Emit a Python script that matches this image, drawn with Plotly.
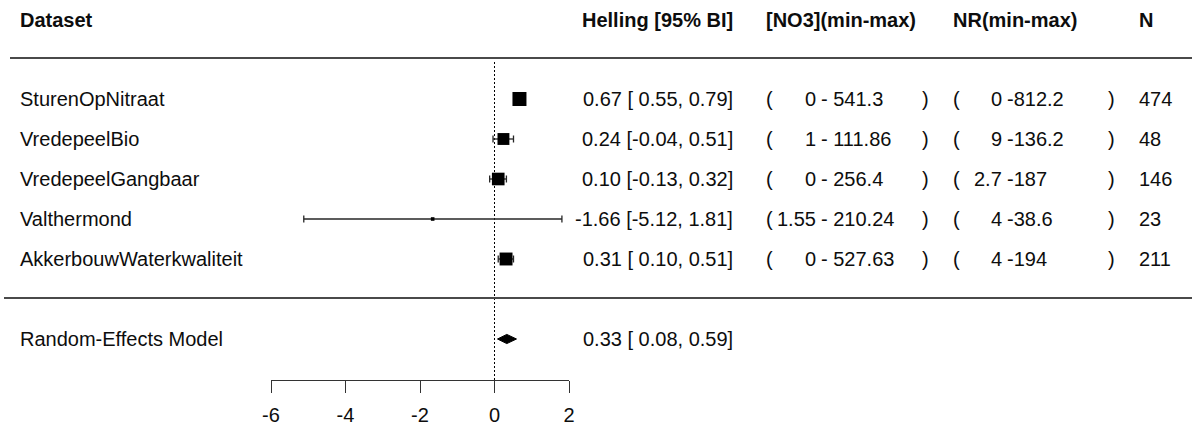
import plotly.graph_objects as go

# ---- study-level data -------------------------------------------------------
datasets = ["SturenOpNitraat", "VredepeelBio", "VredepeelGangbaar",
            "Valthermond", "AkkerbouwWaterkwaliteit"]
slope = [0.67, 0.24, 0.10, -1.66, 0.31]
ci_low = [0.55, -0.04, -0.13, -5.12, 0.10]
ci_high = [0.79, 0.51, 0.32, 1.81, 0.51]
no3_min = ["0", "1", "0", "1.55", "0"]
no3_max = ["541.3", "111.86", "256.4", "210.24", "527.63"]
nr_min = ["0", "9", "2.7", "4", "4"]
nr_max = ["812.2", "136.2", "187", "38.6", "194"]
n_obs = [474, 48, 146, 23, 211]

# pooled random-effects result
re_label = "Random-Effects Model"
re_est, re_low, re_high = 0.33, 0.08, 0.59
tau2 = 0.06  # between-study variance used for the square weights

x_ticks = [-6, -4, -2, 0, 2]

# ---- geometry ---------------------------------------------------------------
W, H = 1192, 427
ROW0_PX, ROW_H = 99, 40          # pixel centre of first row, row spacing
AXIS_PX = 380                    # pixel height of the x axis line
X_DOMAIN_PX = (271, 569)         # horizontal extent of the effect axis

def px_to_row(p):
    return (p - ROW0_PX) / ROW_H

study_rows = list(range(len(datasets)))
re_row = len(datasets) + 1
header_row = px_to_row(20)
top_rule = px_to_row(58)
bottom_rule = px_to_row(298)
axis_row = px_to_row(AXIS_PX)

FONT = "Liberation Sans, Arial, Helvetica, sans-serif"
FS = 20
TXT = "#0d0d0d"

# square size from inverse-variance random-effects weights
z = 1.959964
se = [(h - l) / (2 * z) for l, h in zip(ci_low, ci_high)]
w = [1.0 / (s * s + tau2) for s in se]
wmin, wmax = min(w), max(w)
SMIN, SMAX = 3.6, 14.0
sizes = [SMIN + (wi - wmin) / (wmax - wmin) * (SMAX - SMIN) for wi in w]

fig = go.Figure()

# reference line at zero
fig.add_trace(go.Scatter(
    x=[0, 0], y=[top_rule + 0.1, axis_row], mode="lines",
    line=dict(color="black", width=1, dash="2px,2px"),
    hoverinfo="skip", showlegend=False))

# confidence-interval whiskers with end caps
cap = 3.5 / ROW_H
cx, cy = [], []
for r, l, h in zip(study_rows, ci_low, ci_high):
    cx += [l, h, None, l, l, None, h, h, None]
    cy += [r, r, None, r - cap, r + cap, None, r - cap, r + cap, None]
fig.add_trace(go.Scatter(
    x=cx, y=cy, mode="lines", line=dict(color="#262626", width=1.3),
    cliponaxis=False, hoverinfo="skip", showlegend=False))

# study estimates
fig.add_trace(go.Scatter(
    x=slope, y=study_rows, mode="markers",
    marker=dict(symbol="square", size=sizes, color="black", opacity=1,
                line=dict(width=0)),
    cliponaxis=False, hoverinfo="skip", showlegend=False))

# pooled estimate diamond
dh = 4.6 / ROW_H
fig.add_trace(go.Scatter(
    x=[re_low, re_est, re_high, re_est, re_low],
    y=[re_row, re_row - dh, re_row, re_row + dh, re_row],
    mode="lines", fill="toself", fillcolor="black",
    line=dict(color="black", width=1),
    cliponaxis=False, hoverinfo="skip", showlegend=False))

# horizontal rules
for yv, x0 in ((top_rule, 10), (bottom_rule, 4)):
    fig.add_shape(type="line", xref="paper", yref="y",
                  x0=x0 / W, x1=1, y0=yv, y1=yv,
                  line=dict(color="#4a4a4a", width=2))

annotations = []

def txt(xpx, y, s, anchor="left", bold=False):
    annotations.append(dict(
        xref="paper", yref="y", x=xpx / W, y=y, text=f"<b>{s}</b>" if bold else s,
        xanchor=anchor, yanchor="middle", showarrow=False,
        borderpad=0, borderwidth=0,
        font=dict(family=FONT, size=FS, color=TXT)))

# column headers
txt(20, header_row, "Dataset", bold=True)
txt(733, header_row, "Helling [95% BI]", "right", bold=True)
txt(766, header_row, "[NO3](min-max)", bold=True)
txt(953, header_row, "NR(min-max)", bold=True)
txt(1139, header_row, "N", bold=True)

def ci_text(e, l, h):
    return f"{e:.2f} [{l:5.2f}, {h:.2f}]".replace("  ", " ")

for r, name, e, l, h, a, b, c, d, n in zip(study_rows, datasets, slope, ci_low,
                                          ci_high, no3_min, no3_max, nr_min,
                                          nr_max, n_obs):
    txt(20, r, name)
    txt(733, r, ci_text(e, l, h), "right")
    txt(766, r, "(")
    txt(816, r, a, "right")
    txt(821, r, f"- {b}")
    txt(922, r, ")")
    txt(953, r, "(")
    txt(1002, r, c, "right")
    txt(1007, r, f"-{d}")
    txt(1108, r, ")")
    txt(1139, r, str(n))

txt(20, re_row, re_label)
txt(733, re_row, ci_text(re_est, re_low, re_high), "right")

fig.update_layout(
    width=W, height=H, autosize=False,
    margin=dict(l=0, r=0, t=0, b=0, pad=0, autoexpand=False),
    paper_bgcolor="white", plot_bgcolor="white",
    annotations=annotations,
    xaxis=dict(
        domain=[X_DOMAIN_PX[0] / W, X_DOMAIN_PX[1] / W],
        range=[x_ticks[0], x_ticks[-1]],
        anchor="free", position=1 - AXIS_PX / H,
        showline=True, linecolor="#333333", linewidth=1.2,
        ticks="outside", ticklen=12, tickwidth=1.2, tickcolor="#333333",
        tickvals=x_ticks, ticktext=[str(t) for t in x_ticks],
        ticklabelstandoff=5,
        tickfont=dict(family=FONT, size=FS, color=TXT),
        showgrid=False, zeroline=False, fixedrange=True),
    yaxis=dict(
        domain=[0, 1], range=[(H - ROW0_PX) / ROW_H, -ROW0_PX / ROW_H],
        visible=False, showgrid=False, zeroline=False, fixedrange=True),
)

fig.write_html(
    "out.html",
    config={"responsive": False, "displayModeBar": False},
    post_script="document.body.style.margin='0px';"
                "document.body.style.overflow='hidden';",
)
